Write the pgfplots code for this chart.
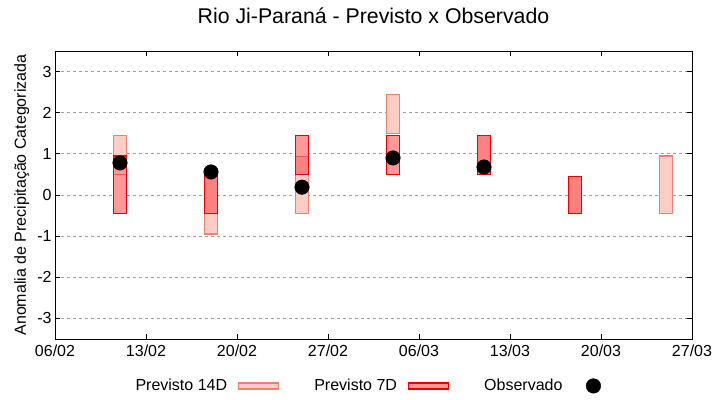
\documentclass[border=0pt]{standalone}
\usepackage{fontspec}
\setmainfont{Liberation Sans}
\usepackage{pgfplots}
\pgfplotsset{compat=1.18}
\definecolor{f14}{RGB}{252,204,198}
\definecolor{d14}{RGB}{240,128,112}
\definecolor{f7d}{RGB}{255,128,128}
\definecolor{f7l}{RGB}{255,153,153}
\definecolor{d7}{RGB}{238,0,0}
\definecolor{div}{RGB}{240,90,90}
\definecolor{gridc}{RGB}{160,160,160}
\begin{document}
\begin{tikzpicture}
\useasboundingbox (-55bp,-61bp) rectangle (665bp,339bp);
\begin{axis}[
  at={(0bp,0bp)}, anchor=south west,
  scale only axis, width=637bp, height=288bp,
  xmin=0, xmax=49, ymin=-3.5, ymax=3.5,
  xtick={0,7,14,21,28,35,42,49},
  xticklabels={06/02,13/02,20/02,27/02,06/03,13/03,20/03,27/03},
  ytick={-3,-2,-1,0,1,2,3},
  yticklabels={-3,-2,-1,0,1,2,3},
  xticklabel style={yshift=-2bp},
  tick align=inside, major tick length=5bp,
  tick style={black, line width=0.8bp},
  ymajorgrids, grid style={gridc, dash pattern=on 3bp off 3bp, line width=0.8bp},
  axis line style={line width=1bp},
  font=\fontsize{16bp}{19bp}\selectfont,
  title={Rio Ji-Paraná - Previsto x Observado},
  title style={at={(axis description cs:0.5,1)}, anchor=center, yshift=29bp, font=\fontsize{21.3bp}{25bp}\selectfont},
  ylabel={Anomalia de Precipitação Categorizada},
  ylabel style={at={(axis description cs:-0.052,0.5)}, anchor=center},
  legend plot pos=right,
  legend columns=3,
  legend style={at={(axis description cs:0.5,-0.163)}, anchor=center, draw=none, fill=none,
    font=\fontsize{16bp}{19bp}\selectfont,
    /tikz/every odd column/.append style={column sep=9bp},
    /tikz/every even column/.append style={column sep=33bp}},
  b14/.style={fill=f14, draw=d14, line width=1.2bp, forget plot},
  b7d/.style={fill=f7d, draw=d7, line width=1.2bp, forget plot},
  b7l/.style={fill=f7l, draw=d7, line width=1.2bp, forget plot},
  dv/.style={div, line width=0.8bp, forget plot},
]
% Bar 1 (11/02)
\addplot[b14] coordinates {(4.525,-0.45) (5.475,-0.45) (5.475,1.45) (4.525,1.45)} -- cycle;
\addplot[b7l] coordinates {(4.525,-0.45) (5.475,-0.45) (5.475,0.95) (4.525,0.95)} -- cycle;
\addplot[dv] coordinates {(4.55,0.5) (5.45,0.5)};
% Bar 2 (18/02)
\addplot[b14] coordinates {(11.525,-0.95) (12.475,-0.95) (12.475,-0.45) (11.525,-0.45)} -- cycle;
\addplot[b7d] coordinates {(11.525,-0.45) (12.475,-0.45) (12.475,0.5) (11.525,0.5)} -- cycle;
% Bar 3 (25/02)
\addplot[b14] coordinates {(18.525,-0.45) (19.475,-0.45) (19.475,0.5) (18.525,0.5)} -- cycle;
\addplot[b7d,draw=none] coordinates {(18.525,0.5) (19.475,0.5) (19.475,0.95) (18.525,0.95)} -- cycle;
\addplot[b7l,draw=none] coordinates {(18.525,0.95) (19.475,0.95) (19.475,1.45) (18.525,1.45)} -- cycle;
\addplot[b7d,fill=none] coordinates {(18.525,0.5) (19.475,0.5) (19.475,1.45) (18.525,1.45)} -- cycle;
\addplot[dv] coordinates {(18.55,0.95) (19.45,0.95)};
% Bar 4 (04/03)
\addplot[b14] coordinates {(25.525,1.5) (26.475,1.5) (26.475,2.45) (25.525,2.45)} -- cycle;
\addplot[b7l] coordinates {(25.525,0.5) (26.475,0.5) (26.475,1.45) (25.525,1.45)} -- cycle;
% Bar 5 (11/03)
\addplot[b7d] coordinates {(32.525,0.5) (33.475,0.5) (33.475,1.45) (32.525,1.45)} -- cycle;
% Bar 6 (18/03)
\addplot[b7d] coordinates {(39.525,-0.45) (40.475,-0.45) (40.475,0.45) (39.525,0.45)} -- cycle;
% Bar 7 (25/03)
\addplot[b14] coordinates {(46.525,-0.45) (47.475,-0.45) (47.475,0.95) (46.525,0.95)} -- cycle;

\addlegendimage{legend image code/.code={\draw[fill=f14,draw=d14,line width=1.2bp] (0bp,-3bp) rectangle (40bp,3bp);}}
\addlegendentry{Previsto 14D}
\addlegendimage{legend image code/.code={\draw[fill=f7l,draw=d7,line width=1.2bp] (0bp,-3bp) rectangle (40bp,3bp);}}
\addlegendentry{Previsto 7D}
\addplot[only marks, mark=*, mark size=7.3bp, black,
  legend image code/.code={\path[draw=none,fill=none] (0bp,-3bp) rectangle (40bp,3bp); \fill[black] (20bp,0bp) circle (7.3bp);}]
  coordinates {(5,0.78) (12,0.56) (19,0.19) (26,0.9) (33,0.68)};
\addlegendentry{Observado}
\end{axis}
\end{tikzpicture}
\end{document}
